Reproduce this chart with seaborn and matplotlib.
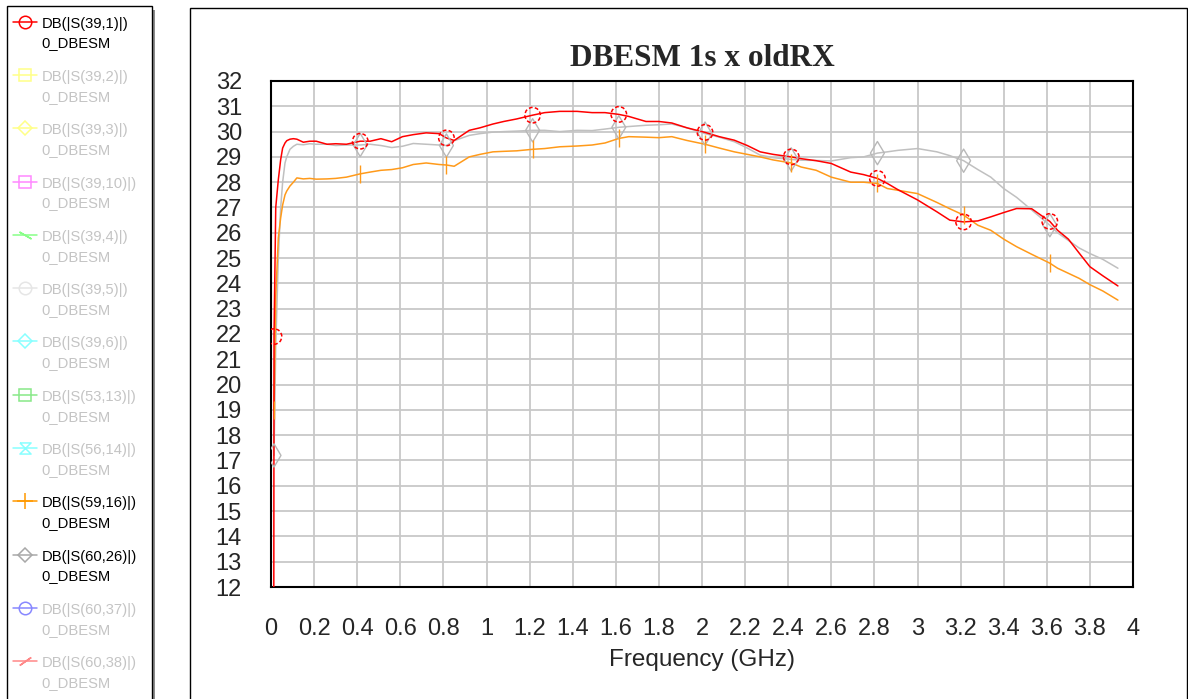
import numpy as np
import pandas as pd
import matplotlib
matplotlib.use('Agg')
import matplotlib.pyplot as plt
from matplotlib.patches import Rectangle
from matplotlib.path import Path
import seaborn as sns

# --- data (GHz / dB) ---
freq = [0.013, 0.014, 0.022, 0.034, 0.045, 0.054, 0.065, 0.073, 0.088, 0.104,
        0.12, 0.15, 0.18, 0.21, 0.26, 0.30, 0.35, 0.414, 0.46, 0.51,
        0.56, 0.61, 0.66, 0.72, 0.78, 0.814, 0.85, 0.92, 0.97, 1.03,
        1.08, 1.14, 1.214, 1.27, 1.34, 1.42, 1.49, 1.55, 1.614, 1.66,
        1.74, 1.80, 1.86, 1.93, 2.014, 2.08, 2.15, 2.21, 2.27, 2.33,
        2.414, 2.46, 2.53, 2.60, 2.69, 2.75, 2.814, 2.86, 2.91, 3.00,
        3.09, 3.15, 3.214, 3.28, 3.34, 3.40, 3.46, 3.53, 3.614, 3.65,
        3.70, 3.75, 3.80, 3.86, 3.93]

s39_1 = [11.5, 21.9, 27.0, 28.1, 28.9, 29.35, 29.55, 29.64, 29.7, 29.72,
         29.7, 29.58, 29.62, 29.62, 29.5, 29.52, 29.5, 29.62, 29.62, 29.72,
         29.6, 29.8, 29.88, 29.95, 29.92, 29.75, 29.65, 30.05, 30.15, 30.3,
         30.4, 30.5, 30.65, 30.75, 30.8, 30.8, 30.75, 30.75, 30.68, 30.6,
         30.4, 30.4, 30.34, 30.15, 29.97, 29.8, 29.66, 29.45, 29.2, 29.1,
         29.0, 28.93, 28.85, 28.74, 28.4, 28.3, 28.15, 27.95, 27.7, 27.3,
         26.83, 26.5, 26.43, 26.47, 26.63, 26.8, 26.96, 26.95, 26.45, 26.1,
         25.75, 25.2, 24.66, 24.3, 23.9]

s59_16 = [np.nan, 19.0, 23.5, 25.8, 26.6, 27.1, 27.5, 27.65, 27.85, 28.0,
          28.17, 28.13, 28.15, 28.12, 28.13, 28.15, 28.2, 28.33, 28.4, 28.47,
          28.5, 28.57, 28.7, 28.76, 28.7, 28.68, 28.63, 29.0, 29.1, 29.2,
          29.22, 29.24, 29.3, 29.33, 29.4, 29.43, 29.47, 29.55, 29.73, 29.8,
          29.78, 29.76, 29.8, 29.65, 29.5, 29.35, 29.2, 29.1, 29.0, 28.88,
          28.76, 28.6, 28.47, 28.2, 28.0, 28.0, 27.95, 27.75, 27.68, 27.55,
          27.2, 26.95, 26.7, 26.3, 26.1, 25.75, 25.45, 25.15, 24.8, 24.6,
          24.4, 24.2, 23.95, 23.7, 23.34]

s60_26 = [np.nan, 17.2, 21.5, 25.0, 27.0, 28.0, 28.76, 29.0, 29.3, 29.42,
          29.5, 29.48, 29.52, 29.5, 29.5, 29.45, 29.47, 29.47, 29.5, 29.45,
          29.37, 29.42, 29.53, 29.5, 29.47, 29.45, 29.64, 29.85, 29.92, 29.98,
          30.0, 30.02, 30.05, 30.05, 30.0, 30.05, 30.04, 30.1, 30.17, 30.2,
          30.25, 30.27, 30.3, 30.15, 29.92, 29.78, 29.6, 29.35, 29.07, 28.97,
          28.9, 28.87, 28.86, 28.84, 28.97, 29.0, 29.15, 29.2, 29.26, 29.33,
          29.2, 29.05, 28.85, 28.5, 28.2, 27.75, 27.4, 26.9, 26.3, 26.0,
          25.7, 25.4, 25.18, 24.95, 24.6]

marker_freq = [0.014, 0.414, 0.814, 1.214, 1.614, 2.014, 2.414, 2.814, 3.214, 3.614]

x_ticks = [0, 0.2, 0.4, 0.6, 0.8, 1, 1.2, 1.4, 1.6, 1.8, 2, 2.2, 2.4, 2.6, 2.8, 3,
           3.2, 3.4, 3.6, 3.8, 4]
x_labels = ['0', '0.2', '0.4', '0.6', '0.8', '1', '1.2', '1.4', '1.6', '1.8', '2',
            '2.2', '2.4', '2.6', '2.8', '3', '3.2', '3.4', '3.6', '3.8', '4']
y_ticks = list(range(12, 33))

legend_names = ['DB(|S(39,1)|)', 'DB(|S(39,2)|)', 'DB(|S(39,3)|)', 'DB(|S(39,10)|)',
                'DB(|S(39,4)|)', 'DB(|S(39,5)|)', 'DB(|S(39,6)|)', 'DB(|S(53,13)|)',
                'DB(|S(56,14)|)', 'DB(|S(59,16)|)', 'DB(|S(60,26)|)', 'DB(|S(60,37)|)',
                'DB(|S(60,38)|)']
legend_colors = ['#ff0000', '#ffff88', '#ffff88', '#ff88ff', '#88ff88', '#e6e6e6',
                 '#88ffff', '#88e888', '#88ffff', '#ff9900', '#a8a8a8', '#8888ff',
                 '#ff8888']
hourglass = Path([(-1, 1), (1, 1), (-1, -1), (1, -1), (-1, 1)])
legend_markers = ['o', 's', 'D', 's', (2, 2, 60), 'o', 'D', 's', hourglass, '+',
                  'D', 'o', (2, 2, -55)]
legend_msize = [9, 8.5, 7, 8.5, 10, 9, 7, 8.5, 8, 11, 7, 9, 10]
legend_active = [True, False, False, False, False, False, False, False, False,
                 True, True, False, False]

series_colors = {'DB(|S(60,26)|)': '#c0c0c0',
                 'DB(|S(59,16)|)': '#ff9a1a',
                 'DB(|S(39,1)|)': '#ff0000'}

df = pd.concat([
    pd.DataFrame({'freq': freq, 'db': s60_26, 'series': 'DB(|S(60,26)|)'}),
    pd.DataFrame({'freq': freq, 'db': s59_16, 'series': 'DB(|S(59,16)|)'}),
    pd.DataFrame({'freq': freq, 'db': s39_1, 'series': 'DB(|S(39,1)|)'}),
], ignore_index=True)
df = df.dropna()
is_mark = np.isclose(df['freq'].values[:, None], np.array(marker_freq)[None, :]).any(axis=1)
marks = df[is_mark]

sns.set_style('white')
plt.rcParams['font.family'] = ['Liberation Sans', 'DejaVu Sans']

W, H = 1188, 699
fig = plt.figure(figsize=(W / 100, H / 100), dpi=100)

# outer frame of the graph window
fig.add_artist(Rectangle((190 / W, -0.01), (1187 - 190) / W, 1 - 8 / H + 0.01,
                         transform=fig.transFigure, fill=False, ec='black', lw=1))

ax = fig.add_axes([271 / W, 1 - 587 / H, (1133 - 271) / W, (587 - 81) / H])

sns.lineplot(data=df, x='freq', y='db', hue='series', palette=series_colors,
             estimator=None, sort=False, lw=1.1, legend=False, ax=ax, zorder=3)

sns.scatterplot(data=marks[marks.series == 'DB(|S(60,26)|)'], x='freq', y='db',
                marker='d', s=140, facecolor='none', edgecolor='#b8b8b8',
                color='#b8b8b8', linewidth=1.0, ax=ax, zorder=4)
sns.scatterplot(data=marks[marks.series == 'DB(|S(59,16)|)'], x='freq', y='db',
                marker='|', s=150, color='#ff9a1a', linewidth=1.0, ax=ax, zorder=4)
sns.scatterplot(data=marks[marks.series == 'DB(|S(39,1)|)'], x='freq', y='db',
                marker='o', s=125, facecolor='none', edgecolor='#ff0000',
                color='#ff0000', linewidth=1.1, linestyle=(0, (2.5, 1.5)),
                ax=ax, zorder=5)

ax.set_xlim(0, 4)
ax.set_ylim(12, 32)
ax.set_xticks(x_ticks, x_labels)
ax.set_yticks(y_ticks)
ax.grid(True, color='#c8c8c8', lw=1.3)
ax.set_axisbelow(True)
ax.tick_params(axis='x', length=0, pad=22, labelsize=17)
ax.tick_params(axis='y', length=0, pad=21, labelsize=17)
for sp in ax.spines.values():
    sp.set_color('black')
    sp.set_linewidth(1.5)
ax.set_xlabel('Frequency (GHz)', fontsize=17.5, labelpad=7)
ax.set_ylabel('')
ax.set_title('DBESM 1s x oldRX', fontfamily=['Liberation Serif', 'DejaVu Serif'],
             fontweight='bold', fontsize=22.5, pad=11)

# legend panel on the left
lg = fig.add_axes([0, 0, 160 / W, 1])
lg.set_xlim(0, 160)
lg.set_ylim(H, 0)
lg.axis('off')
lg.add_patch(Rectangle((10, 10), 145, 700, fc='#8c8c8c', ec='none'))
lg.add_patch(Rectangle((7, 6), 145, 700, fc='white', ec='black', lw=1))
for i, name in enumerate(legend_names):
    y0 = 21.7 + 53.3 * i
    col = legend_colors[i]
    lg.plot([13, 37], [y0, y0], color=col, lw=1.1)
    lg.plot([25], [y0], marker=legend_markers[i], ms=legend_msize[i], mfc='none',
            mec=col, mew=1.1, color=col, ls='none')
    tcol = 'black' if legend_active[i] else '#c4c4c4'
    lg.text(41.7, 27.7 + 53.3 * i, name, fontsize=10.6, color=tcol, va='baseline')
    lg.text(41.7, 47.5 + 53.3 * i, '0_DBESM', fontsize=10.6, color=tcol, va='baseline')

fig.savefig('out.png', dpi=100)
